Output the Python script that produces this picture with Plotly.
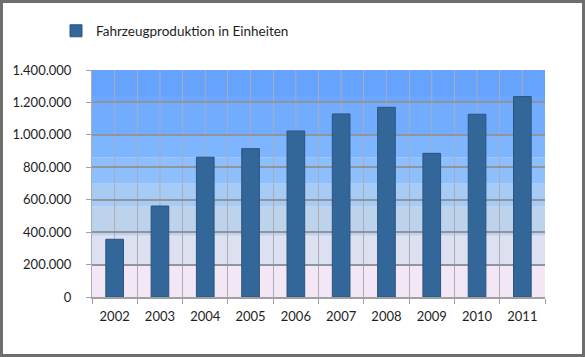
import plotly.graph_objects as go

years = ["2002", "2003", "2004", "2005", "2006", "2007", "2008", "2009", "2010", "2011"]
production = [356000, 561000, 862000, 915000, 1024000, 1129000, 1170000, 886000, 1127000, 1236000]
series_name = "Fahrzeugproduktion in Einheiten"

# background gradient bands (value ranges, colour)
band_edges = [0, 200000, 380000, 560000, 700000, 860000, 1000000, 1200000, 1240000, 1400000]
band_colors = ["#F3E7F6", "#DCE0F0", "#BDD3EC", "#A6CCF6", "#8DBFFC", "#7DB5FF", "#71ACFF", "#6BA7FF", "#66A3FF"]

W, H = 585, 357
ML, MR, MT, MB = 92, 40, 70, 60
PW, PH = W - ML - MR, H - MT - MB

fig = go.Figure()
fig.add_trace(go.Bar(
    x=years, y=production, name=series_name,
    marker=dict(color="#336699", line=dict(color="#2A5582", width=1)),
    width=0.39,
))

shapes = []
for i, c in enumerate(band_colors):
    shapes.append(dict(type="rect", xref="x domain", yref="y",
                       x0=0, x1=1, y0=band_edges[i], y1=band_edges[i + 1],
                       fillcolor=c, line=dict(width=0), layer="below"))
# gridlines at category centres (category index on the category axis)
for idx, _ in enumerate(years):
    shapes.append(dict(type="line", xref="x", yref="y domain", x0=idx, x1=idx, y0=0, y1=1,
                       line=dict(color="#A8AEB8", width=1), layer="below"))
# outer frame
shapes.append(dict(type="rect", xref="paper", yref="paper",
                   x0=(-ML + 1.5) / PW, x1=1 + (MR - 1.5) / PW,
                   y0=(-MB + 1.5) / PH, y1=1 + (MT - 1.5) / PH,
                   line=dict(color="#6E6E6E", width=3), layer="above"))

fig.update_layout(
    width=W, height=H,
    margin=dict(l=ML, r=MR, t=MT, b=MB, autoexpand=False),
    paper_bgcolor="white", plot_bgcolor="#F3E7F6",
    font=dict(family="Lato", size=13, color="#1E1E1E"),
    separators=",.",
    shapes=shapes,
    showlegend=True,
    legend=dict(orientation="h", x=-36 / PW, y=1 + 39 / PH, xanchor="left", yanchor="middle",
                font=dict(size=13.5), bgcolor="rgba(0,0,0,0)"),
    bargap=0.61,
)
fig.update_xaxes(
    type="category", tickson="boundaries", showgrid=True, gridcolor="#A8AEB8", gridwidth=1,
    ticks="outside", ticklen=5, tickcolor="#A0A0A0",
    showline=True, linecolor="#A0A0A0", linewidth=1.5, mirror=False,
    ticklabelstandoff=7, tickangle=0, range=[-0.5, 9.5],
)
fig.update_yaxes(
    range=[0, 1400000], dtick=200000, tickformat=",d",
    showgrid=True, gridcolor="#8F959E", gridwidth=1.5,
    ticks="outside", ticklen=5, tickcolor="#A0A0A0",
    showline=True, linecolor="#A8AEB8", linewidth=1,
    zeroline=False, ticklabelstandoff=12,
)
fig.write_html("out.html", config={"displayModeBar": False},
               post_script="document.body.style.margin='0';document.body.style.overflow='hidden';")
